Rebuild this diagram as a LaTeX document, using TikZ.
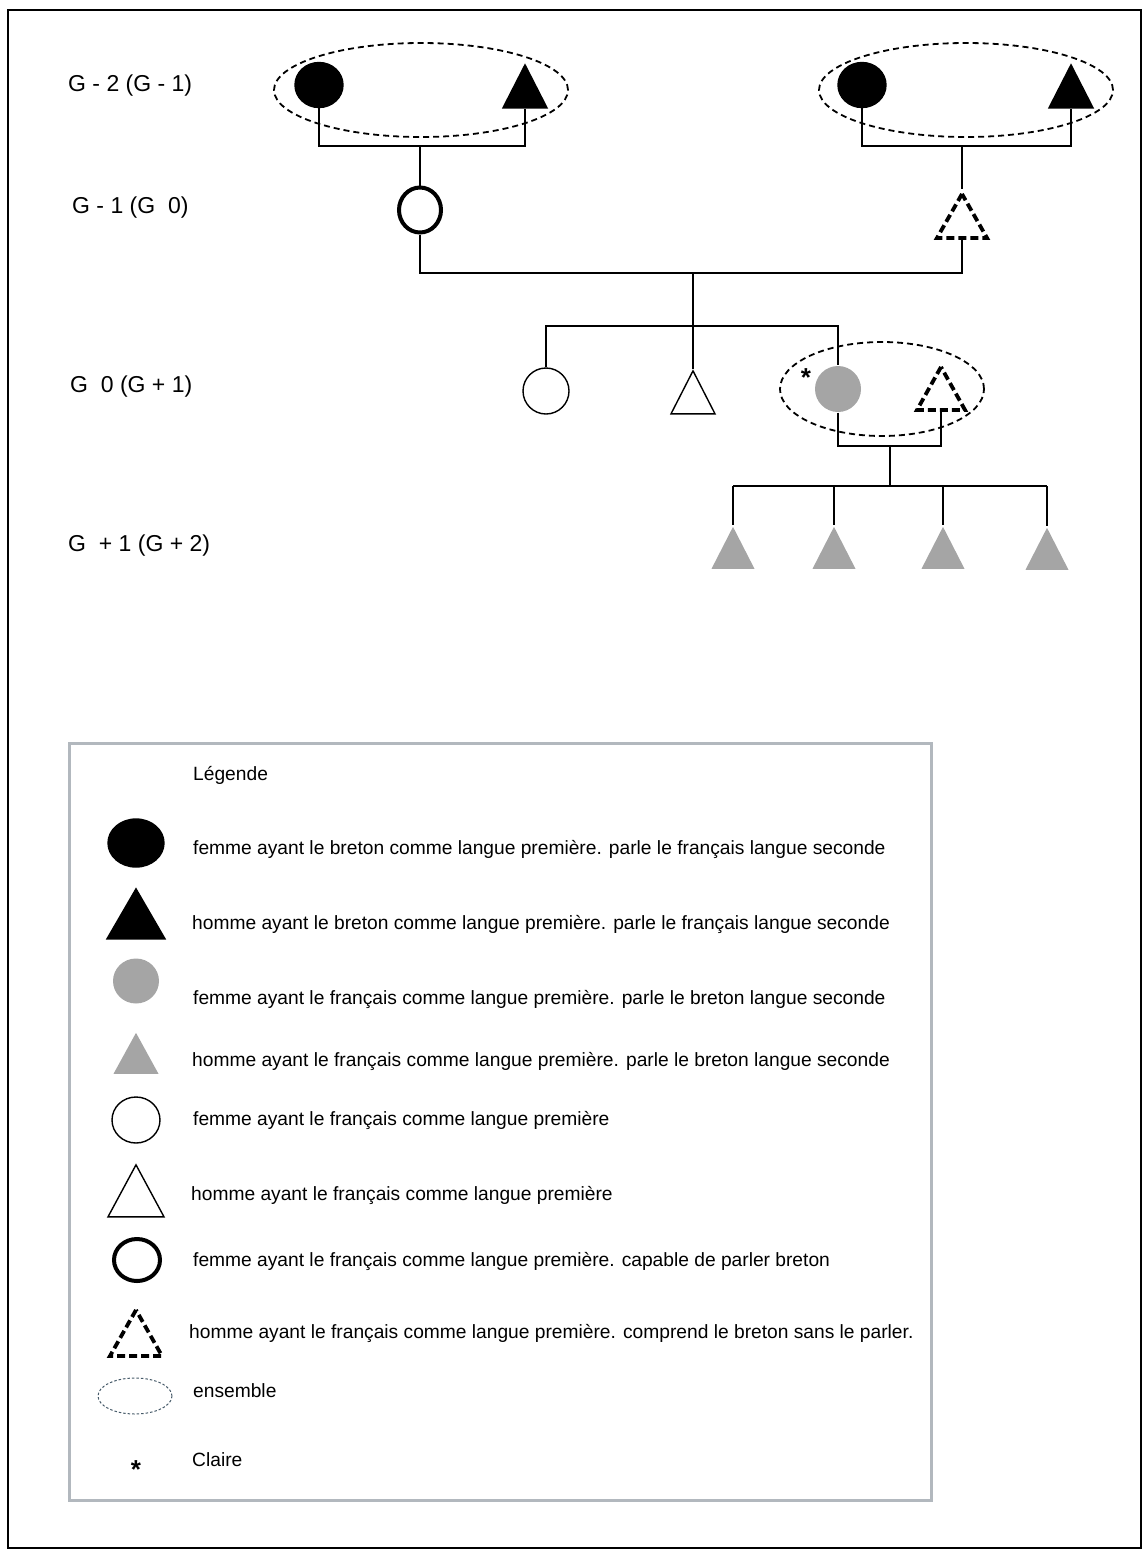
\documentclass[tikz,border=0pt]{standalone}
\usepackage{fontspec}
\setmainfont{Liberation Sans}
\usetikzlibrary{shapes.geometric}
\definecolor{pgrey}{RGB}{165,165,165}
\definecolor{lgray}{RGB}{178,184,190}
\definecolor{dotc}{RGB}{70,90,105}
\begin{document}
\begin{tikzpicture}[x=1pt,y=-1pt,
  conn/.style={line width=1.3pt},
  fem/.style={ellipse,draw,line width=1.4pt,inner sep=0pt,minimum width=46pt,minimum height=46pt},
  bfem/.style={fem,fill=black},
  gfem/.style={fem,draw=none,fill=pgrey},
  tfem/.style={fem,line width=4pt,minimum width=42pt,minimum height=45pt},
  man/.style={isosceles triangle,isosceles triangle stretches,shape border rotate=90,
    inner sep=0pt,draw,line width=1.4pt,anchor=apex,minimum width=44pt,minimum height=43pt},
  bman/.style={man,fill=black},
  gman/.style={man,draw=none,fill=pgrey},
  dman/.style={man,line width=3.8pt,dash pattern=on 8pt off 4pt,minimum width=48pt,minimum height=43pt},
  ens/.style={ellipse,draw,line width=1.8pt,dash pattern=on 6pt off 4pt,inner sep=0pt},
  gen/.style={anchor=west,inner sep=0pt,font=\fontsize{23}{27}\selectfont},
  leg/.style={anchor=west,inner sep=0pt,text height=14pt,text depth=4pt,font=\fontsize{19.2}{23}\selectfont},
  star/.style={inner sep=0pt,font=\bfseries\fontsize{26}{30}\selectfont}
]
\useasboundingbox (0,0) rectangle (1144,1551);
\draw[line width=2pt] (8,10) rectangle (1141,1548);

% generation labels
\node[gen] (g1) at (68,86) {G - 2 (G - 1)};
\node[gen] (g2) at (72,208) {G - 1 (G\ \ 0)};
\node[gen] (g3) at (70,387) {G\ \ 0 (G + 1)};
\node[gen] (g4) at (68,546) {G\ \ + 1 (G + 2)};

% G-2
\node[ens,minimum width=294pt,minimum height=94pt] (e1) at (421,90) {};
\node[bfem,minimum width=48pt,minimum height=45pt] (bf1) at (319,85) {};
\node[bman] (bm1) at (525,63) {};
\node[ens,minimum width=294pt,minimum height=94pt] (e2) at (966,90) {};
\node[bfem,minimum width=48pt,minimum height=45pt] (bf2) at (862,85) {};
\node[bman] (bm2) at (1071,63) {};
\coordinate (m1) at (420,146);
\coordinate (m2) at (962,146);
\draw[conn] (bf1.south) -- (bf1.south |- m1) -- (bm1.lower side |- m1) -- (bm1.lower side);
\draw[conn] (bf2.south) -- (bf2.south |- m2) -- (bm2.lower side |- m2) -- (bm2.lower side);

% G-1
\node[tfem] (f1) at (420,210) {};
\node[dman,minimum width=50pt,minimum height=44pt] (dm1) at (962,189) {};
\draw[conn] (m1) -- (f1.north);
\draw[conn] (m2) -- (dm1.apex);
\coordinate (m3) at (693,273);
\draw[conn] (f1.south) |- (m3) -| (dm1.lower side);

% G0
\coordinate (s1) at (693,326);
\node[fem] (of1) at (546,391) {};
\node[man] (om1) at (693,369) {};
\node[ens,minimum width=204pt,minimum height=94pt] (e3) at (882,389) {};
\node[gfem] (gf1) at (838,389) {};
\node[dman] (dm2) at (941,362) {};
\node[star] (st1) at (806,378) {*};
\draw[conn] (m3) -- (om1.apex);
\draw[conn] (of1.north) -- (of1.north |- s1) -- (gf1.north |- s1) -- (gf1.north);
\coordinate (m4) at (890,446);
\draw[conn] (gf1.south) -- (gf1.south |- m4) -- (dm2.lower side |- m4) -- (dm2.lower side);

% G+1
\coordinate (s2) at (890,486);
\node[gman,minimum width=43pt,minimum height=42pt] (c1) at (733,525) {};
\node[gman,minimum width=43pt,minimum height=42pt] (c2) at (834,525) {};
\node[gman,minimum width=43pt,minimum height=42pt] (c3) at (943,525) {};
\node[gman,minimum width=43pt,minimum height=42pt] (c4) at (1047,526) {};
\draw[conn] (m4) -- (s2);
\draw[conn] (c1.apex |- s2) -- (c4.apex |- s2);
\foreach \c in {c1,c2,c3,c4} \draw[conn] (\c.apex |- s2) -- (\c.apex);

% legend
\node[draw=lgray,line width=3pt,minimum width=862pt,minimum height=757pt,inner sep=0pt] (legend) at (500,1121.5) {};
\node[leg] (t0) at (193,775) {Légende};
\node[bfem,minimum width=56pt,minimum height=48pt] (l1) at (136,843) {};
\node[leg] (t1) at (193,849) {femme ayant le breton comme langue première. parle le français langue seconde};
\node[bman,minimum width=58pt,minimum height=50pt] (l2) at (136,887) {};
\node[leg] (t2) at (192,924) {homme ayant le breton comme langue première. parle le français langue seconde};
\node[gfem,minimum width=46pt,minimum height=45pt] (l3) at (136,981) {};
\node[leg] (t3) at (193,999) {femme ayant le français comme langue première. parle le breton langue seconde};
\node[gman,minimum width=45pt,minimum height=41pt] (l4) at (136,1031) {};
\node[leg] (t4) at (192,1061) {homme ayant le français comme langue première. parle le breton langue seconde};
\node[fem,minimum width=48pt,minimum height=46pt] (l5) at (136,1120) {};
\node[leg] (t5) at (193,1120) {femme ayant le français comme langue première};
\node[man,minimum width=56pt,minimum height=52pt] (l6) at (136,1163) {};
\node[leg] (t6) at (191,1195) {homme ayant le français comme langue première};
\node[tfem,minimum width=46pt,minimum height=42pt] (l7) at (137,1260) {};
\node[leg] (t7) at (193,1261) {femme ayant le français comme langue première. capable de parler breton};
\node[dman,minimum width=52pt,minimum height=46pt] (l8) at (136,1305) {};
\node[leg] (t8) at (189,1333) {homme ayant le français comme langue première. comprend le breton sans le parler.};
\node[ellipse,draw=dotc,line width=1pt,dash pattern=on 2.5pt off 2pt,inner sep=0pt,minimum width=74pt,minimum height=36pt] (l9) at (135,1396) {};
\node[leg] (t9) at (193,1392) {ensemble};
\node[star] (l10) at (136,1470) {*};
\node[leg] (t10) at (192,1461) {Claire};
\end{tikzpicture}
\end{document}
